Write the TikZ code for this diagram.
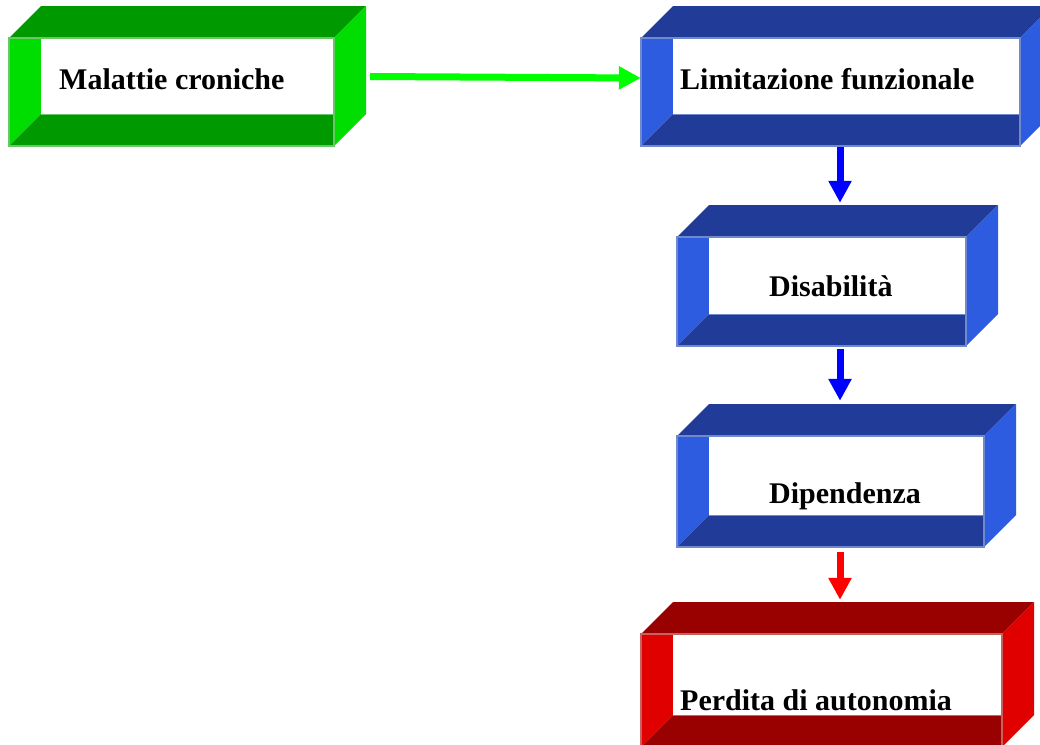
\documentclass[tikz,border=0pt]{standalone}
\usepackage{fontspec}
\setmainfont{Liberation Serif}
\usetikzlibrary{arrows.meta,fit}
\definecolor{gdark}{HTML}{009900}
\definecolor{glight}{HTML}{00DD00}
\definecolor{gedge}{HTML}{66C866}
\definecolor{bdark}{HTML}{203C98}
\definecolor{blight}{HTML}{2E5CE0}
\definecolor{bedge}{HTML}{7088CC}
\definecolor{rdark}{HTML}{990000}
\definecolor{rlight}{HTML}{E00000}
\definecolor{redge}{HTML}{C86060}
\definecolor{garr}{HTML}{00FF00}
\definecolor{barr}{HTML}{0000FF}
\definecolor{rarr}{HTML}{FF0000}
\tikzset{
  lbl/.style={inner sep=0pt, font=\fontsize{30}{36}\selectfont\bfseries, text=black},
  flowarrow/.style={line width=7pt, line cap=butt, -{Triangle[width=22pt,length=22pt]}},
  extent/.style={inner sep=0pt, draw=none}
}
% #1 name, #2 x0, #3 y0, #4 x1, #5 y1, #6 dark, #7 light, #8 edge
\newcommand{\tunnelbox}[8]{%
  \fill[#6] (#2,#3) -- (#2+32,#3-32) -- (#4+32,#3-32) -- (#4,#3) -- cycle;
  \fill[#7] (#4,#3) -- (#4+32,#3-32) -- (#4+32,#5-32) -- (#4,#5) -- cycle;
  \fill[#7] (#2,#3) -- (#2+32,#3) -- (#2+32,#5-32) -- (#2,#5) -- cycle;
  \fill[#6] (#2,#5) -- (#2+32,#5-32) -- (#4,#5-32) -- (#4,#5) -- cycle;
  \fill[white] (#2+32,#3) rectangle (#4,#5-32);
  \draw[#8, line width=0.8pt] (#2+32,#5-32) -- (#4,#5-32);
  \draw[#8, line width=1.2pt] (#2,#3) rectangle (#4,#5);
  \path (#2,#3-32) coordinate (#1nw) (#4+32,#5) coordinate (#1se);
  \node[extent, fit=(#1nw)(#1se)] (#1) {};
}
\begin{document}
\begin{tikzpicture}[x=1pt,y=-1pt]
\useasboundingbox (0,0) rectangle (1040,744);
\clip (0,0) rectangle (1040,744);

\tunnelbox{b1}{9}{38}{334}{146}{gdark}{glight}{gedge}
\tunnelbox{b2}{641}{38}{1020}{146}{bdark}{blight}{bedge}
\tunnelbox{b3}{677}{237}{966}{346}{bdark}{blight}{bedge}
\tunnelbox{b4}{677}{436}{984}{547}{bdark}{blight}{bedge}
\tunnelbox{b5}{641}{634}{1002}{747}{rdark}{rlight}{redge}

\node[lbl, anchor=base west] (t1) at (59,89) {Malattie croniche};
\node[lbl, anchor=base west] (t2) at (680,89) {Limitazione funzionale};
\node[lbl, anchor=base west] (t3) at (769,296) {Disabilità};
\node[lbl, anchor=base west] (t4) at (769,503) {Dipendenza};
\node[lbl, anchor=base west] (t5) at (680,710) {Perdita di autonomia};

\coordinate (ax) at (840,0);
\draw[flowarrow, garr] ([xshift=4pt,yshift=-0.5pt]b1.east) -- ([yshift=-2pt]b2.west);
\draw[flowarrow, barr] ([yshift=-1pt]b2.south -| ax) -- ([yshift=2pt]b3.north -| ax);
\draw[flowarrow, barr] ([yshift=-3pt]b3.south -| ax) -- ([yshift=3pt]b4.north -| ax);
\draw[flowarrow, rarr] ([yshift=-5pt]b4.south -| ax) -- ([yshift=2pt]b5.north -| ax);
\end{tikzpicture}
\end{document}
